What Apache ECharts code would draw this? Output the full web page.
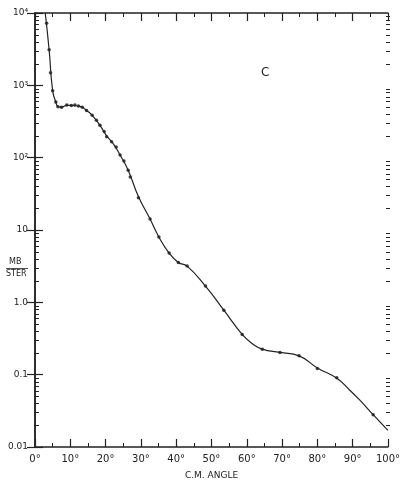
<!DOCTYPE html>
<html>
<head>
<meta charset="utf-8">
<script src="https://cdn.jsdelivr.net/npm/echarts@6/dist/echarts.min.js"></script>
<style>
  html, body { margin: 0; padding: 0; background: #fff; }
  #chart { width: 403px; height: 485px; }
</style>
</head>
<body>
<div id="chart"></div>
<script>
// measured points (C.M. angle in degrees, mb/ster)
var dotAngles = [3.3, 4.0, 4.4, 5.0, 5.9, 6.5, 7.5, 9.0, 10.3, 11.3, 12.3, 13.4, 14.6, 16.2, 17.4, 18.4, 19.6, 20.3, 21.7, 23.0, 24.1, 25.2, 26.4, 27.0, 29.3, 32.6, 35.1, 38.0, 40.6, 43.1, 48.3, 53.5, 58.7, 64.4, 69.4, 74.8, 80.0, 85.5, 95.8];
var dotValues = [7200, 3100, 1490, 840, 590, 505, 497, 535, 525, 535, 520, 497, 450, 385, 330, 280, 230, 195, 166, 140, 109, 90, 67, 54, 28, 14.2, 8.0, 4.8, 3.56, 3.17, 1.68, 0.78, 0.36, 0.225, 0.203, 0.182, 0.122, 0.091, 0.028];

// drawn curve through the points
var curveAngles = [2.9, 4.0, 5.0, 5.9, 6.5, 7.5, 9.0, 10.5, 12.3, 13.4, 14.6, 16.2, 18.4, 20.3, 22.0, 24.1, 26.4, 29.3, 32.6, 35.1, 38.0, 40.6, 43.1, 48.3, 53.5, 58.7, 61.5, 64.4, 69.4, 74.8, 80.0, 85.5, 89.2, 92.1, 95.8, 100];
var curveValues = [10000, 3100, 840, 590, 510, 500, 530, 530, 515, 497, 450, 385, 280, 200, 160, 109, 67, 29, 14.2, 8.0, 4.8, 3.56, 3.17, 1.68, 0.78, 0.36, 0.27, 0.225, 0.203, 0.182, 0.124, 0.089, 0.061, 0.044, 0.028, 0.017];

var yTickLabels = { '-2': '0.01', '-1': '0.1', '0': '1.0', '1': '10', '2': '10\u00b2', '3': '10\u00b3', '4': '10\u2074' };

var chart = echarts.init(document.getElementById('chart'));

var ink = '#222';
var font = 'DejaVu Sans';

function zip(a, b) {
    return a.map(function (v, i) { return [v, b[i]]; });
}

var xBase = {
    type: 'value',
    min: 0,
    max: 100,
    interval: 10,
    splitLine: { show: false },
    axisLine: { lineStyle: { color: ink, width: 1.5 } },
    axisTick: { inside: true, length: 8, lineStyle: { color: ink, width: 1.2 } },
    minorTick: { show: true, splitNumber: 2, length: 4, lineStyle: { color: ink, width: 1 } }
};
var yBase = {
    type: 'log',
    logBase: 10,
    min: 0.01,
    max: 10000,
    splitLine: { show: false },
    axisLine: { lineStyle: { color: ink, width: 1.5 } },
    axisTick: { inside: true, length: 8, lineStyle: { color: ink, width: 1.2 } }
};

chart.setOption({
    animation: false,
    grid: { left: 35, right: 13, top: 13, bottom: 38 },
    title: {
        text: 'C',
        left: 256,
        top: 62,
        textStyle: { fontFamily: font, fontWeight: 'normal', fontSize: 12, color: ink }
    },
    xAxis: [
        Object.assign({}, xBase, {
            position: 'bottom',
            name: 'C.M. ANGLE',
            nameLocation: 'middle',
            nameGap: 24,
            nameTextStyle: { fontFamily: font, fontSize: 9, color: ink },
            axisLabel: {
                margin: 7,
                fontFamily: font,
                fontSize: 10,
                color: ink,
                formatter: function (v) { return v + '\u00b0'; }
            }
        }),
        Object.assign({}, xBase, { position: 'top', axisLabel: { show: false } })
    ],
    yAxis: [
        Object.assign({}, yBase, {
            position: 'left',
            axisLabel: {
                margin: 7,
                fontFamily: font,
                fontSize: 9,
                color: ink,
                formatter: function (v) {
                    return yTickLabels[String(Math.round(Math.log10(v)))] || '';
                }
            }
        }),
        Object.assign({}, yBase, { position: 'right', axisLabel: { show: false } })
    ],
    series: [
        {
            name: 'curve',
            type: 'line',
            smooth: 0.5,
            showSymbol: false,
            lineStyle: { color: ink, width: 1.2 },
            data: zip(curveAngles, curveValues)
        },
        {
            name: 'points',
            type: 'scatter',
            symbol: 'circle',
            symbolSize: 3.5,
            itemStyle: { color: '#111' },
            data: zip(dotAngles, dotValues)
        }
    ]
});

// minor ticks at 2..9 of each decade on both vertical axes
var gl = 35, gr = 403 - 13;
var marks = [];
for (var d = -2; d < 4; d++) {
    for (var m = 2; m <= 9; m++) {
        var y = Math.round(chart.convertToPixel({ yAxisIndex: 0 }, m * Math.pow(10, d))) + 0.5;
        marks.push({ type: 'line', shape: { x1: gl, y1: y, x2: gl + 4, y2: y }, style: { stroke: ink, lineWidth: 1 } });
        marks.push({ type: 'line', shape: { x1: gr - 4, y1: y, x2: gr, y2: y }, style: { stroke: ink, lineWidth: 1 } });
    }
}
// y axis title MB / STER
marks.push({ type: 'text', left: 9, top: 258, style: { text: 'MB', font: '8px ' + font, fill: ink } });
marks.push({ type: 'line', shape: { x1: 6, y1: 268.5, x2: 28, y2: 268.5 }, style: { stroke: ink, lineWidth: 0.8 } });
marks.push({ type: 'text', left: 6, top: 270, style: { text: 'STER', font: '8px ' + font, fill: ink } });

chart.setOption({ graphic: marks });
</script>
</body>
</html>
